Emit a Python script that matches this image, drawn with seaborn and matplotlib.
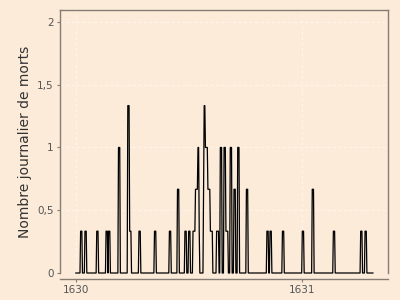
import numpy as np
import pandas as pd
import matplotlib
matplotlib.use("Agg")
import matplotlib.pyplot as plt
import seaborn as sns
from matplotlib.ticker import FixedLocator, FuncFormatter

# Plateaux of the daily death curve (day offset from 1 Jan 1630, inclusive)
debuts = [8, 15, 34, 49, 53, 69, 84, 87, 102, 127, 151, 164, 176, 182,
          189, 193, 197, 199, 206, 207, 209, 213, 217, 227, 233, 239, 242,
          249, 255, 261, 275, 308, 313, 333, 365, 381, 415, 459, 466]
fins = [10, 17, 36, 51, 55, 71, 86, 89, 104, 129, 153, 166, 178, 184,
        192, 196, 198, 199, 206, 208, 212, 216, 220, 230, 235, 241, 245,
        251, 257, 263, 277, 310, 315, 335, 367, 383, 417, 461, 468]
valeurs = [0.333, 0.333, 0.333, 0.333, 0.333, 1.0, 1.333, 0.333, 0.333, 0.333,
           0.333, 0.667, 0.333, 0.333, 0.333, 0.667, 1.0, 0.333, 0.667, 1.333,
           1.0, 0.667, 0.333, 0.333, 1.0, 1.0, 0.333, 1.0, 0.667, 1.0,
           0.667, 0.333, 0.333, 0.333, 0.333, 0.667, 0.333, 0.333, 0.333]
nb_jours = 480
annee_debut = 1630
yticks = [0, 0.5, 1, 1.5, 2]
xticks = [1630, 1631]

serie = np.zeros(nb_jours)
for d, f, v in zip(debuts, fins, valeurs):
    serie[d:f + 1] = v
df = pd.DataFrame({"annee": annee_debut + np.arange(nb_jours) / 365.0,
                   "morts": serie})

bg = "#FCEBD9"
sns.set_theme(style="ticks")
plt.rcParams["font.family"] = ["DejaVu Sans"]

fig = plt.figure(figsize=(4, 3), dpi=100, facecolor=bg)
ax = fig.add_axes([0.15, 0.09, 0.82, 0.8767])
ax.set_facecolor(bg)

sns.lineplot(data=df, x="annee", y="morts", ax=ax, color="black",
             linewidth=0.9, clip_on=False)

ax.set_xlim(1629.931, 1631.378)
ax.set_ylim(0, 2.095)
ax.xaxis.set_major_locator(FixedLocator(xticks))
ax.yaxis.set_major_locator(FixedLocator(yticks))
ax.xaxis.set_major_formatter(FuncFormatter(lambda v, p: f"{int(round(v))}"))
ax.yaxis.set_major_formatter(
    FuncFormatter(lambda v, p: (f"{v:g}").replace(".", ",")))

ax.grid(True, color="white", linestyle=(0, (3, 2)), linewidth=0.8, alpha=0.45)
ax.set_axisbelow(True)

spine_col = "#857d74"
for s in ["left", "right", "top", "bottom"]:
    ax.spines[s].set_visible(True)
    ax.spines[s].set_color(spine_col)
    ax.spines[s].set_linewidth(1.0)
ax.spines["bottom"].set_position(("outward", 4))

ax.tick_params(axis="both", colors=spine_col, length=2.5, width=0.8,
               labelsize=7.5, labelcolor="#555555", pad=2)
ax.set_xlabel("")
ax.set_ylabel("Nombre journalier de morts", fontsize=10, color="#333333",
              labelpad=4)

fig.savefig("out.png", dpi=100, facecolor=bg)
